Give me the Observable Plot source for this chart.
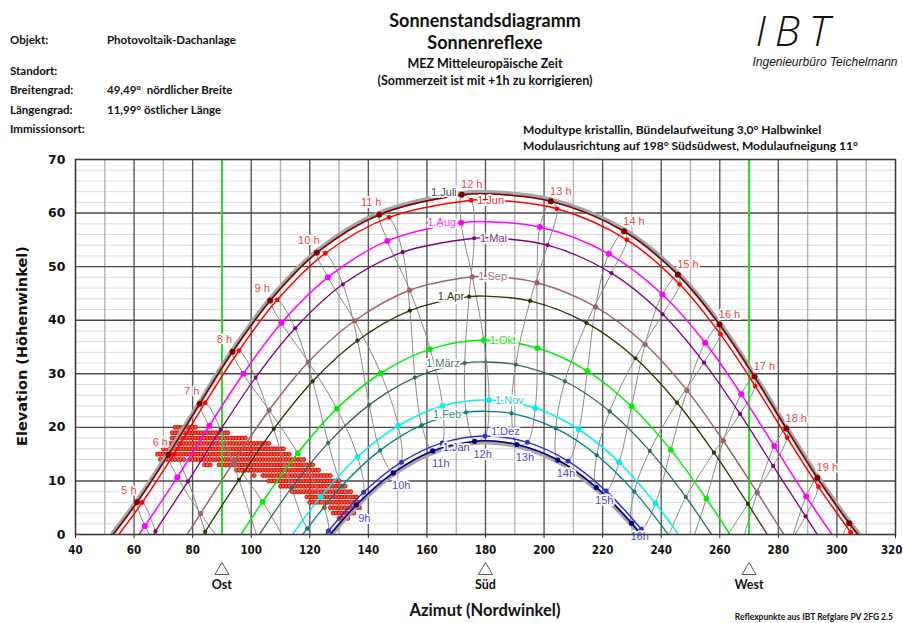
<!DOCTYPE html>
<html><head><meta charset="utf-8">
<script src="https://cdn.jsdelivr.net/npm/d3@7"></script>
<script src="https://cdn.jsdelivr.net/npm/@observablehq/plot@0.6"></script>
<style>
body{margin:0;background:#fff;}
#wrap{position:relative;width:903px;height:623px;overflow:hidden;background:#fff;}
#wrap svg{position:absolute;left:0;top:0;}
#wrap .t{position:absolute;white-space:pre;line-height:1;color:#111;font-family:Lato,"Liberation Sans",sans-serif;font-weight:700;}
#wrap svg [aria-label^="y-axis"] text{font-family:"DejaVu Sans","Liberation Sans",sans-serif;font-weight:700;font-size:12.5px;fill:#111;}
</style></head>
<body><div id="wrap"></div>
<script>
// ---------- data ----------
const dateNames = ["1.Jan","1.Feb","1.März","1.Apr","1.Mai","1.Jun","1.Juli","1.Aug","1.Sep","1.Okt","1.Nov","1.Dez"];
// [hour MEZ, azimuth (°), elevation (°)]
const jan = [[9,135.9,5.5],[10,148.5,11.5],[11,162.0,15.6],[12,176.3,17.4],[13,190.7,16.8],[14,204.7,13.9],[15,217.8,8.8],[16,229.9,2.1]];
const feb = [[8,119.1,1.1],[9,131.0,9.1],[10,144.0,15.7],[11,158.2,20.4],[12,173.4,22.8],[13,188.9,22.6],[14,204.0,19.8],[15,218.0,14.8],[16,230.8,8.0]];
const mar = [[8,113.8,8.7],[9,126.3,17.1],[10,140.3,24.2],[11,155.9,29.3],[12,172.9,32.0],[13,190.3,31.7],[14,207.1,28.6],[15,222.4,23.0],[16,236.1,15.6],[17,248.4,7.0]];
const apr = [[6,84.3,0.5],[7,95.8,10.2],[8,107.7,19.7],[9,121.0,28.6],[10,136.3,36.2],[11,154.2,41.8],[12,174.4,44.4],[13,195.2,43.6],[14,214.5,39.5],[15,231.2,32.9],[16,245.4,24.6],[17,258.0,15.3],[18,269.6,5.7]];
const mai = [[5,67.3,0.6],[6,78.4,9.9],[7,89.6,19.6],[8,101.5,29.3],[9,115.0,38.5],[10,131.3,46.7],[11,151.7,52.7],[12,176.1,55.3],[13,201.2,54.0],[14,223.0,48.8],[15,240.5,41.1],[16,254.6,32.1],[17,266.9,22.5],[18,278.2,12.8],[19,289.3,3.4]];
const jun = [[5,62.8,6.0],[6,73.6,15.0],[7,84.3,24.6],[8,95.8,34.3],[9,108.9,43.8],[10,125.3,52.5],[11,147.1,59.2],[12,175.1,62.4],[13,204.4,60.8],[14,228.3,55.0],[15,246.3,46.7],[16,260.2,37.4],[17,272.1,27.7],[18,283.0,18.1],[19,293.7,8.9],[20,304.7,0.4]];
const jul = [[5,61.0,6.0],[6,71.7,14.9],[7,82.4,24.4],[8,93.6,34.1],[9,106.5,43.7],[10,122.4,52.6],[11,143.7,59.7],[12,171.9,63.4],[13,202.3,62.2],[14,227.3,56.6],[15,245.7,48.5],[16,259.9,39.2],[17,271.8,29.5],[18,282.7,19.8],[19,293.3,10.6],[20,304.2,2.1]];
const aug = [[5,63.7,1.6],[6,74.8,10.7],[7,85.7,20.3],[8,97.3,30.0],[9,110.3,39.5],[10,126.2,48.0],[11,146.5,54.8],[12,171.7,58.2],[13,198.6,57.4],[14,222.1,52.4],[15,240.4,44.8],[16,255.0,35.8],[17,267.3,26.2],[18,278.6,16.5],[19,289.5,7.1]];
const sep = [[6,82.7,3.9],[7,94.1,13.6],[8,106.1,23.2],[9,119.5,32.2],[10,135.3,39.9],[11,154.1,45.6],[12,175.5,48.1],[13,197.6,47.0],[14,217.6,42.5],[15,234.5,35.5],[16,248.8,26.9],[17,261.2,17.5],[18,272.8,7.8]];
const okt = [[7,103.9,6.1],[8,115.9,15.2],[9,129.2,23.5],[10,144.2,30.1],[11,161.1,34.6],[12,179.4,36.3],[13,197.7,34.8],[14,214.8,30.5],[15,229.9,23.9],[16,243.3,15.8],[17,255.4,6.7]];
const nov = [[8,123.7,7.0],[9,136.3,14.5],[10,150.2,20.3],[11,165.3,24.0],[12,181.2,25.1],[13,197.0,23.6],[14,211.9,19.6],[15,225.6,13.5],[16,238.0,5.8]];
const dez = [[8,126.4,0.7],[9,138.4,7.9],[10,151.3,13.5],[11,165.2,17.1],[12,179.8,18.4],[13,194.3,17.2],[14,208.2,13.7],[15,221.2,8.1],[16,233.2,1.0]];
const hourly = [jan, feb, mar, apr, mai, jun, jul, aug, sep, okt, nov, dez];
// sunrise / sunset azimuth at the horizon, and culmination elevation (az 180)
const riseAz = [127.0,117.6,102.8,83.8,66.7,54.8,52.8,61.7,78.1,96.5,114.1,125.4];
const setAz  = [233.0,242.4,257.2,276.2,293.3,305.2,307.2,298.3,281.9,263.5,245.9,234.6];
const noonEl = [17.5,23.0,32.2,44.5,55.4,62.5,63.6,58.4,48.2,36.3,25.1,18.4];
// hour-line points just below the horizon (where the grey hour lines run into the axis)
const belowHorizon = [["1.Jan",8,124.2,-1.95],["1.Feb",17,242.6,-0.17],["1.Nov",17,249.6,-2.9],["1.März",7,102.1,-0.6],["1.Nov",7,112.1,-1.6],
  ["1.März",6,90.8,-10.3],["1.Okt",6,92.4,-3.5],["1.März",18,260.0,-2.4],["1.Okt",18,266.9,-2.9],["1.Apr",19,281.0,-4.0],["1.Sep",19,284.1,-1.8],
  ["1.Mai",20,300.8,-5.5],["1.Aug",20,300.8,-1.7],["1.Apr",5,72.8,-9.1],["1.Sep",5,71.3,-5.6]];
const hourList = [5,6,7,8,9,10,11,12,13,14,15,16,17,18,19,20];
// reflection points: [elevation, [azimuth from, azimuth to], ...] on a 1° grid
const reflRows = [[20,[74,76],[78,81]],[19,[73,92]],[18,[73,98]],[17,[71,106]],[16,[70,111]],[15,[68,113]],[14,[69,77],[79,118]],
  [13,[84,86],[89,121]],[12,[95,123]],[11,[101,101],[104,127]],[10,[106,130]],[9,[110,132]],[8,[114,134]],[7,[119,136]],
  [6,[120,137]],[5,[125,125],[127,137]],[4,[128,135]],[3,[130,133]]];
const xTicks = [40,60,80,100,120,140,160,180,200,220,240,260,280,300,320];
const yTicks = [0,10,20,30,40,50,60,70];
const compassAz = [90,180,270];
const compassNames = ["Ost","Süd","West"];

// ---------- styles ----------
const sty = {
 "1.Jan": {c:"#000080", w:1.6, r:2.6, t:"#3c3cc0", band:1.6, dy:6},
 "1.Feb": {c:"#008080", w:1.3, r:2.1, t:"#2b8c8c", dy:2},
 "1.März":{c:"#336666", w:1.3, r:2.1, t:"#4d7b7b", dy:0},
 "1.Apr": {c:"#333300", w:1.3, r:2.1, t:"#3a3a10", dy:0},
 "1.Mai": {c:"#800080", w:1.3, r:2.1, t:"#8a2a8a", dy:0},
 "1.Jun": {c:"#ff0000", w:1.5, r:2.4, t:"#ff2a2a", dy:0},
 "1.Juli":{c:"#800000", w:1.6, r:3.0, t:"#4a4a4a", band:-1.6, dy:-2},
 "1.Aug": {c:"#ff00ff", w:1.5, r:3.0, t:"#ff33ff", dy:0},
 "1.Sep": {c:"#996666", w:1.5, r:2.6, t:"#a07070", dy:0},
 "1.Okt": {c:"#00ee00", w:1.5, r:2.9, t:"#22dd22", dy:0},
 "1.Nov": {c:"#00f0f0", w:1.5, r:2.9, t:"#22d0d0", dy:0},
 "1.Dez": {c:"#3333cc", w:1.5, r:2.5, t:"#5050dd", dy:-4}
};
const endSide = new Set(["1.Juli","1.Aug","1.Apr","1.März","1.Feb","1.Jan"]);

// ---------- derived tables ----------
function curveRows(i){
  const pts = hourly[i].map(([h,az,el])=>({az,el}));
  pts.push({az:riseAz[i],el:0},{az:setAz[i],el:0});
  const h12 = hourly[i].find(p=>p[0]===12);
  if (Math.abs(h12[1]-180) > 2) pts.push({az:180, el:noonEl[i]});
  return pts.sort((a,b)=>a.az-b.az);
}
const marks = [];
// grid
marks.push(Plot.ruleY(d3.range(2,70,2).filter(v=>v%10), {stroke:"#dcdcdc", strokeWidth:1}));
marks.push(Plot.ruleX(xTicks.map(v=>v+10).filter(v=>v<320), {stroke:"#b4b4b4", strokeWidth:1.4}));
marks.push(Plot.ruleX(xTicks.slice(1,-1), {stroke:"#5a5a5a", strokeWidth:1.4}));
marks.push(Plot.ruleY(yTicks.slice(1,-1), {stroke:"#4a4a4a", strokeWidth:1.4}));
// reflection points
const refl = reflRows.flatMap(([el,...segs])=>segs.flatMap(([a,b])=>d3.range(a,b+0.5,1).map(az=>({az,el}))));
marks.push(Plot.dot(refl, {x:"az", y:"el", r:2.0, fill:"#ff5030", stroke:"#c00000", strokeWidth:0.8}));
// east / west lines
marks.push(Plot.ruleX([90,270], {stroke:"#22dd22", strokeWidth:2}));
// hour lines (analemmas)
for (const h of hourList){
  const pts = dateNames.map((d,i)=>{
    const p = hourly[i].find(q=>q[0]===h);
    if (p) return {az:p[1], el:p[2]};
    const b = belowHorizon.find(q=>q[0]===d && q[1]===h);
    return b ? {az:b[2], el:b[3]} : null;
  }).filter(Boolean);
  marks.push(Plot.line(pts, {x:"az", y:"el", stroke:"#8a8a8a", strokeWidth:1, curve: pts.length===12 ? "catmull-rom-closed" : "catmull-rom", clip:true}));
}
// date curves
dateNames.forEach((d,i)=>{
  const s = sty[d];
  const rows = curveRows(i);
  if (s.band) marks.push(Plot.line(rows, {x:"az", y:"el", stroke:"#a6a6a6", strokeWidth:4.5, dy:s.band, curve:"catmull-rom", clip:true}));
  marks.push(Plot.line(rows, {x:"az", y:"el", stroke:s.c, strokeWidth:s.w, curve:"catmull-rom", clip:true}));
});
// hour markers
dateNames.forEach((d,i)=>{
  const s = sty[d];
  marks.push(Plot.dot(hourly[i].map(([h,az,el])=>({h,az,el})), {x:"az", y:"el", r:s.r, fill:s.c}));
});
// date labels at the 12 h marker
const labelFont = {fontSize:11, fontFamily:"'Liberation Sans', Arial, sans-serif", stroke:"white", strokeWidth:3.5, paintOrder:"stroke"};
dateNames.forEach((d,i)=>{
  const s = sty[d];
  const p = hourly[i].find(q=>q[0]===12);
  const left = endSide.has(d);
  marks.push(Plot.text([{az:p[1], el:p[2], d}], {x:"az", y:"el", text:"d", fill:s.t, textAnchor: left ? "end" : "start", dx: left ? -5 : 6, dy:s.dy, ...labelFont}));
});
// hour labels
const julRows = jul.filter(([h])=>h<=19).map(([h,az,el])=>({h,az,el}));
marks.push(Plot.text(julRows.filter(d=>d.h<12), {x:"az", y:"el", text:d=>`${d.h} h`, dx:-8, dy:-12, fill:"#e84545", ...labelFont}));
marks.push(Plot.text(julRows.filter(d=>d.h>=12), {x:"az", y:"el", text:d=>`${d.h} h`, dx:10, dy:-10, fill:"#e84545", ...labelFont}));
marks.push(Plot.text(jan.map(([h,az,el])=>({h,az,el})), {x:"az", y:"el", text:d=>`${d.h}h`, dx:8, dy:13, fill:"#4a4ae0", ...labelFont}));
// frame
marks.push(Plot.frame({stroke:"#3a3a3a", strokeWidth:1.6}));
// x tick labels (last one kept inside the page)
const tickFont = {frameAnchor:"bottom", dy:19, fontSize:11.5, fontWeight:"bold", fontFamily:"'DejaVu Sans Condensed','DejaVu Sans',sans-serif", fill:"#111"};
marks.push(Plot.text(xTicks.slice(0,-1), {x:d=>d, text:d=>String(d), ...tickFont}));
marks.push(Plot.text(xTicks.slice(-1), {x:d=>d, text:d=>String(d), textAnchor:"end", dx:7, ...tickFont}));
// compass markers under the axis
marks.push(Plot.dot(compassAz, {x:d=>d, frameAnchor:"bottom", dy:36, symbol:"triangle", r:5.2, fill:"white", stroke:"#555", strokeWidth:1}));
marks.push(Plot.text(compassNames, {x:(d,i)=>compassAz[i], frameAnchor:"bottom", dy:54, text:d=>d, fontSize:12.5, fontWeight:"bold", fontFamily:"Lato, 'Liberation Sans', sans-serif", fill:"#111"}));

const chart = Plot.plot({
  width:903, height:623,
  marginTop:159, marginBottom:89, marginLeft:75, marginRight:8,
  x:{domain:[40,320], ticks:xTicks, tickSize:4, tickFormat:()=>"", label:null},
  y:{domain:[0,70], ticks:yTicks, tickSize:0, tickPadding:10, label:null},
  style:{background:"white", fontFamily:"'Liberation Sans', Arial, sans-serif", fontSize:"11px", color:"#222"},
  marks
});
const wrap = document.getElementById("wrap");
wrap.appendChild(chart);

// ---------- header / captions ----------
function put(text, x, y, css={}, anchor="start"){
  const el = document.createElement("div");
  el.className = "t"; el.textContent = text;
  el.style.left = x+"px"; el.style.top = y+"px";
  const tx = anchor==="middle" ? "-50%" : anchor==="end" ? "-100%" : "0";
  el.style.transform = `translate(${tx},-50%)`;
  Object.assign(el.style, css);
  wrap.appendChild(el);
  return el;
}
const lf = {fontSize:"11.5px"};
put("Objekt:", 10, 40, lf); put("Photovoltaik-Dachanlage", 107, 40, lf);
put("Standort:", 10, 71, lf);
put("Breitengrad:", 10, 90, lf); put("49,49°  nördlicher Breite", 107, 90, lf);
put("Längengrad:", 10, 110, lf); put("11,99° östlicher Länge", 107, 110, lf);
put("Immissionsort:", 10, 129, lf);
put("Sonnenstandsdiagramm", 485, 20, {fontSize:"18px"}, "middle");
put("Sonnenreflexe", 485, 42, {fontSize:"18px"}, "middle");
put("MEZ Mitteleuropäische Zeit", 485, 64, {fontSize:"12.5px"}, "middle");
put("(Sommerzeit ist mit +1h zu korrigieren)", 485, 81, {fontSize:"12.5px"}, "middle");
put("Modultype kristallin, Bündelaufweitung 3,0° Halbwinkel", 523, 130, {fontSize:"12px"});
put("Modulausrichtung auf 198° Südsüdwest, Modulaufneigung 11°", 523, 146, {fontSize:"12px"});
const logo = put("", 797, 30, {fontSize:"42px", lineHeight:"42px", fontStyle:"italic", fontWeight:"300", fontFamily:"'Open Sans','DejaVu Sans',sans-serif", letterSpacing:"9px"}, "middle");
logo.innerHTML = '<span>I</span><span>B</span><span>T</span>';
put("Ingenieurbüro Teichelmann", 825, 62, {fontSize:"12px", fontStyle:"italic", fontWeight:"400", fontFamily:"'Liberation Sans',Arial,sans-serif"}, "middle");
const yt = put("Elevation (Höhenwinkel)", 22, 346, {fontSize:"14.5px", fontFamily:"'DejaVu Sans',sans-serif"});
yt.style.transform = "translate(-50%,-50%) rotate(-90deg)";
put("Azimut (Nordwinkel)", 485, 610, {fontSize:"16.5px"}, "middle");
put("Reflexpunkte aus IBT Refglare PV 2FG 2.5", 893, 617, {fontSize:"8.5px"}, "end");
</script>
</body></html>
